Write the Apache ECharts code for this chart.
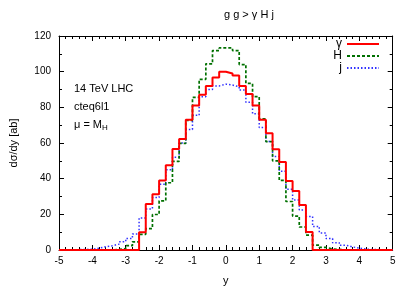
<!DOCTYPE html>
<html>
<head>
<meta charset="utf-8">
<script src="https://cdn.jsdelivr.net/npm/echarts@6/dist/echarts.min.js"></script>
<style>html,body{margin:0;padding:0;background:#fff}#c{width:415px;height:291px}</style>
</head>
<body>
<div id="c"></div>
<script>
// bin edges in rapidity y (51 edges, 50 bins of width 0.2)
const binEdges = [-5.0,-4.8,-4.6,-4.4,-4.2,-4.0,-3.8,-3.6,-3.4,-3.2,-3.0,-2.8,-2.6,-2.4,-2.2,-2.0,-1.8,-1.6,-1.4,-1.2,-1.0,-0.8,-0.6,-0.4,-0.2,0.0,0.2,0.4,0.6,0.8,1.0,1.2,1.4,1.6,1.8,2.0,2.2,2.4,2.6,2.8,3.0,3.2,3.4,3.6,3.8,4.0,4.2,4.4,4.6,4.8,5.0];
// dsigma/dy [ab] per bin
const gammaVals = [0,0,0,0,0,0,0,0,0,0,0,0,
  10,25.8,31.3,39,47.5,56.7,62.2,73,81,87,92,96.7,100,99,97.8,92,87.5,81,73,65.5,56.5,49.3,38.7,33.1,25.2,10.1,
  0,0,0,0,0,0,0,0,0,0,0,0];
const higgsVals = [0,0,0,0,0,0,0,0,
  0.3,0.8,2.4,4.6,8.8,12,19.9,27.6,37.7,49.7,59.8,72.7,85.6,95.7,104.4,111.8,113.3,113.3,111.8,104,93.4,86,73.6,60.8,50,39,27.2,19,12.9,8.3,2.7,1.5,0.6,0.3,
  0,0,0,0,0,0,0,0];
const jetVals = [0,0,
  0.2,0.3,0.5,1.0,1.8,2.4,3.3,4.6,6.4,9.0,18,23,29.4,36.8,45,52,60,67.6,75.5,86,90,92,93,92.5,91.5,89.7,82.9,76.4,68.7,60.8,52.5,44.2,34,28,22.4,18.8,13.2,9.6,6.4,4,2.7,1.7,1.1,0.5,0.3,0.2,
  0,0];
const xTicks = [-5,5,1];
const yTicks = [0,120,20];
const seriesNames = ['γ','H','j'];

function steps(vals){
  const pts = [[binEdges[0],0]];
  for (let i=0;i<vals.length;i++) pts.push([binEdges[i], vals[i]]);
  pts.push([binEdges[binEdges.length-1], 0]);
  return pts;
}
const FONT = 'Liberation Sans, Arial, sans-serif';
const chart = echarts.init(document.getElementById('c'), null, {renderer:'canvas'});
const axisCommon = {
  axisLine:{show:true, onZero:false, lineStyle:{color:'#000', width:1}},
  axisTick:{show:true, inside:true, length:5, lineStyle:{color:'#000'}},
  splitLine:{show:false},
};
function minor(n){ return {minorTick:{show:true, splitNumber:n, length:3, lineStyle:{color:'#000'}}}; }
chart.setOption({
  animation:false,
  backgroundColor:'#fff',
  grid:{left:58.7, right:22.3, top:36, bottom:37.7},
  graphic:[
    {type:'text', left:224, top:9, style:{text:'g g > γ H j', font:'11px '+FONT, fill:'#000', textAlign:'center'}},
    {type:'text', left:74, top:83, style:{text:'14 TeV LHC', font:'11px '+FONT, fill:'#000'}},
    {type:'text', left:74, top:101, style:{text:'cteq6l1', font:'11px '+FONT, fill:'#000'}},
    {type:'text', left:74, top:119, style:{
      text:'{a|μ = M}{b|H}', rich:{a:{font:'11px '+FONT, fill:'#000'}, b:{font:'8px '+FONT, fill:'#000', padding:[6,0,0,0]}}}}
  ],
  legend:{
    orient:'vertical', right:30, top:33, align:'right',
    itemWidth:32, itemHeight:10, itemGap:0,
    itemStyle:{opacity:0},
    textStyle:{fontSize:12, lineHeight:10, fontFamily:FONT, color:'#000', padding:[0,0,0,0]},
    data: seriesNames
  },
  xAxis:[
    Object.assign({type:'value', min:xTicks[0], max:xTicks[1], interval:xTicks[2], position:'bottom',
      name:'y', nameLocation:'middle', nameGap:25, nameTextStyle:{fontSize:11, fontFamily:FONT, color:'#000'},
      axisLabel:{fontSize:10, fontFamily:FONT, color:'#000', margin:6}}, axisCommon, minor(5)),
    Object.assign({type:'value', min:xTicks[0], max:xTicks[1], interval:xTicks[2], position:'top',
      axisLabel:{show:false}}, axisCommon, minor(5))
  ],
  yAxis:[
    Object.assign({type:'value', min:yTicks[0], max:yTicks[1], interval:yTicks[2], position:'left',
      name:'dσ/dy [ab]', nameLocation:'middle', nameGap:40, nameRotate:90,
      nameTextStyle:{fontSize:11, fontFamily:FONT, color:'#000'},
      axisLabel:{fontSize:10, fontFamily:FONT, color:'#000', margin:8}}, axisCommon, minor(2)),
    Object.assign({type:'value', min:yTicks[0], max:yTicks[1], interval:yTicks[2], position:'right',
      axisLabel:{show:false}}, axisCommon, minor(2))
  ],
  series:[
    {name:seriesNames[0], type:'line', step:'end', symbol:'none', data:steps(gammaVals),
      lineStyle:{color:'#ff0000', width:2}, itemStyle:{color:'#ff0000'}, z:4},
    {name:seriesNames[1], type:'line', step:'end', symbol:'none', data:steps(higgsVals),
      lineStyle:{color:'#007000', width:1.7, type:[3,2]}, itemStyle:{color:'#007000'}, z:3},
    {name:seriesNames[2], type:'line', step:'end', symbol:'none', data:steps(jetVals),
      lineStyle:{color:'#3030ff', width:1.5, type:[1.5,2]}, itemStyle:{color:'#3030ff'}, z:2}
  ]
});
</script>
</body>
</html>
